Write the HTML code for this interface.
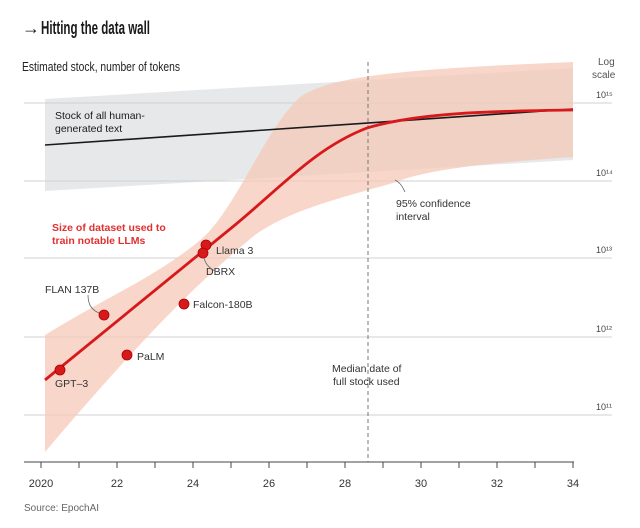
<!DOCTYPE html>
<html><head><meta charset="utf-8"><style>
body{margin:0;background:#fff;width:640px;height:523px;overflow:hidden;font-family:"Liberation Sans",sans-serif}
</style></head><body>
<svg width="640" height="523" xmlns="http://www.w3.org/2000/svg" font-family="Liberation Sans, sans-serif">
<rect width="640" height="523" fill="#fff"/>
<text x="22" y="34" font-size="18" font-weight="bold" fill="#1a1a1a">→</text>
<text x="41" y="34" font-size="18" font-weight="bold" fill="#1a1a1a" textLength="109" lengthAdjust="spacingAndGlyphs">Hitting the data wall</text>
<text x="22" y="71" font-size="12.5" fill="#222" textLength="158" lengthAdjust="spacingAndGlyphs">Estimated stock, number of tokens</text>
<text x="598" y="65" font-size="10" fill="#555">Log</text>
<text x="592" y="78" font-size="10" fill="#555">scale</text>
<path d="M45,99 L573,68 L573,160 L45,191 Z" fill="#e6e8ea"/>
<g stroke="#d0d0d0" stroke-width="1">
<line x1="24" y1="103" x2="612" y2="103"/><line x1="24" y1="181" x2="612" y2="181"/>
<line x1="24" y1="258" x2="612" y2="258"/><line x1="24" y1="337" x2="612" y2="337"/>
<line x1="24" y1="415" x2="612" y2="415"/></g>
<g font-size="9" fill="#444">
<text x="596" y="98">10¹⁵</text><text x="596" y="176">10¹⁴</text><text x="596" y="253">10¹³</text><text x="596" y="332">10¹²</text><text x="596" y="410">10¹¹</text></g>
<path d="M45,335 C110,295 160,275 205,236 C240,200 265,130 300,97 C330,78 380,70 573,62 L573,157 C500,162 430,168 393,183 C340,198 290,210 255,235 C200,280 140,340 45,452 Z" fill="#f5c9b8" fill-opacity="0.75"/>
<line x1="368" y1="62" x2="368" y2="462" stroke="#777" stroke-width="1" stroke-dasharray="4,3"/>
<path d="M45,145 L573,109" stroke="#1a1a1a" stroke-width="1.6" fill="none"/>
<path d="M45,380 L235,225 C280,188 315,148 367,128 C420,112 500,111 573,110" stroke="#d7191c" stroke-width="2.8" fill="none"/>
<g fill="#d7191c" stroke="#a00" stroke-width="0.8">
<circle cx="60" cy="370" r="5"/><circle cx="104" cy="315" r="5"/><circle cx="127" cy="355" r="5"/>
<circle cx="184" cy="304" r="5"/><circle cx="206" cy="245" r="5"/><circle cx="203" cy="253" r="5"/></g>
<g font-size="10.5" fill="#333">
<text x="216" y="254">Llama 3</text><text x="206" y="275">DBRX</text>
<text x="45" y="293">FLAN 137B</text><text x="193" y="308">Falcon-180B</text>
<text x="137" y="360">PaLM</text><text x="55" y="387">GPT–3</text>
<text x="396" y="207">95% confidence</text><text x="396" y="220">interval</text>
<text x="332" y="372">Median date of</text><text x="333" y="385">full stock used</text>
</g>
<g stroke="#666" fill="none" stroke-width="0.8">
<path d="M204,258 C206,266 212,270 218,272"/><path d="M88,295 C88,305 92,310 99,313"/><path d="M395,180 C401,183 403,188 405,192"/></g>
<text x="55" y="119" font-size="10.5" fill="#1a1a1a">Stock of all human-</text>
<text x="55" y="132" font-size="10.5" fill="#1a1a1a">generated text</text>
<text x="52" y="231" font-size="10.5" font-weight="bold" fill="#e03030">Size of dataset used to</text>
<text x="52" y="244" font-size="10.5" font-weight="bold" fill="#e03030">train notable LLMs</text>
<line x1="24" y1="462" x2="574" y2="462" stroke="#444" stroke-width="1"/>
<g stroke="#444" stroke-width="1">
<line x1="41" y1="462" x2="41" y2="468"/><line x1="79" y1="462" x2="79" y2="468"/><line x1="117" y1="462" x2="117" y2="468"/><line x1="155" y1="462" x2="155" y2="468"/><line x1="193" y1="462" x2="193" y2="468"/><line x1="231" y1="462" x2="231" y2="468"/><line x1="269" y1="462" x2="269" y2="468"/><line x1="307" y1="462" x2="307" y2="468"/><line x1="345" y1="462" x2="345" y2="468"/><line x1="383" y1="462" x2="383" y2="468"/><line x1="421" y1="462" x2="421" y2="468"/><line x1="459" y1="462" x2="459" y2="468"/><line x1="497" y1="462" x2="497" y2="468"/><line x1="535" y1="462" x2="535" y2="468"/><line x1="573" y1="462" x2="573" y2="468"/></g>
<g font-size="11" fill="#333" text-anchor="middle">
<text x="41" y="487">2020</text><text x="117" y="487">22</text><text x="193" y="487">24</text><text x="269" y="487">26</text><text x="345" y="487">28</text><text x="421" y="487">30</text><text x="497" y="487">32</text><text x="573" y="487">34</text></g>
<text x="24" y="511" font-size="10" fill="#666">Source: EpochAI</text>
</svg>
</body></html>
